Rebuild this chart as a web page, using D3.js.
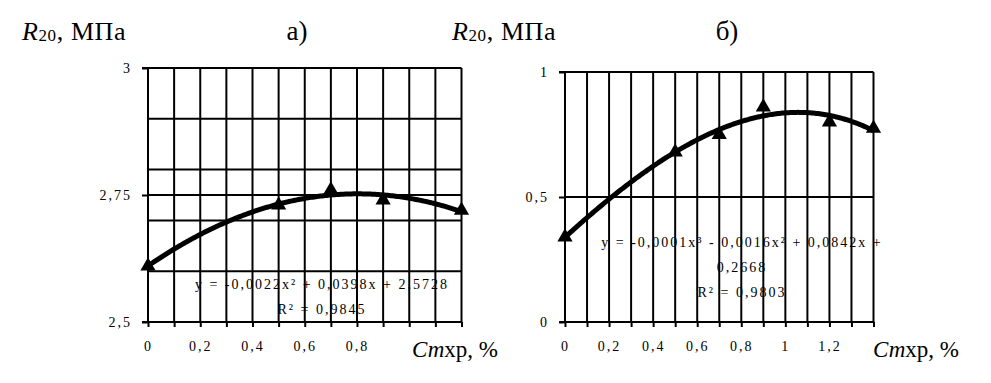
<!DOCTYPE html>
<html><head><meta charset="utf-8">
<script src="https://cdn.jsdelivr.net/npm/d3@7"></script>
</head>
<body style="margin:0;background:#fff"><svg id="c" width="991" height="383"></svg>
<script>
// ---- data ----
const xA = [0, 0.5, 0.7, 0.9, 1.2];
const yA = [2.61, 2.73, 2.76, 2.74, 2.72];
const xB = [0, 0.5, 0.7, 0.9, 1.2, 1.4];
const yB = [0.34, 0.68, 0.75, 0.86, 0.80, 0.775];
const xGridA = [0,0.1,0.2,0.3,0.4,0.5,0.6,0.7,0.8,0.9,1.0,1.1,1.2];
const xGridB = [0,0.1,0.2,0.3,0.4,0.5,0.6,0.7,0.8,0.9,1.0,1.1,1.2,1.3,1.4];
const xLabA = ["0","0,2","0,4","0,6","0,8"];
const xLabAv = [0,0.2,0.4,0.6,0.8];
const xLabB = ["0","0,2","0,4","0,6","0,8","1","1,2"];
const xLabBv = [0,0.2,0.4,0.6,0.8,1.0,1.2];
const yTicksA = [2.5, 2.75, 3];
const yTickLabA = ["2,5","2,75","3"];
const yGridA = [2.6, 2.7, 2.75, 2.8, 2.9, 3];
const yTicksB = [0, 0.5, 1];
const yTickLabB = ["0","0,5","1"];
const yGridB = [0.5, 1];
const eqA = ["y = -0,0022x² + 0,0398x + 2,5728", "R² = 0,9845"];
const eqB = ["y = -0,0001x³ - 0,0016x² + 0,0842x +", "0,2668", "R² = 0,9803"];

const FF = '"Liberation Serif"';

function polyfit(xs, ys, deg){
  const n = deg+1;
  const A = Array.from({length:n},()=>new Array(n+1).fill(0));
  for(let i=0;i<xs.length;i++){
    for(let r=0;r<n;r++){
      for(let c=0;c<n;c++) A[r][c]+=Math.pow(xs[i],r+c);
      A[r][n]+=ys[i]*Math.pow(xs[i],r);
    }
  }
  for(let i=0;i<n;i++){
    let p=i; for(let k=i+1;k<n;k++) if(Math.abs(A[k][i])>Math.abs(A[p][i])) p=k;
    [A[i],A[p]]=[A[p],A[i]];
    for(let k=0;k<n;k++){ if(k===i) continue; const f=A[k][i]/A[i][i]; for(let c=i;c<=n;c++) A[k][c]-=f*A[i][c]; }
  }
  return A.map((row,i)=>row[n]/row[i]);
}
const pv=(co,x)=>co.reduce((s,c,i)=>s+c*Math.pow(x,i),0);

const svg = d3.select("#c").style("font-family",FF);

function panel(o){
  const g = svg.append("g");
  const x = d3.scaleLinear().domain(o.xDom).range(o.xR);
  const y = d3.scaleLinear().domain(o.yDom).range(o.yR);
  g.selectAll(".vg").data(o.xGrid).join("line")
    .attr("x1",d=>x(d)).attr("x2",d=>x(d)).attr("y1",y(o.yDom[0])).attr("y2",y(o.yDom[1]))
    .attr("stroke","#000").attr("stroke-width",2);
  g.selectAll(".hg").data(o.yGrid).join("line")
    .attr("x1",x(o.xDom[0])).attr("x2",x(o.xDom[1])).attr("y1",d=>y(d)).attr("y2",d=>y(d))
    .attr("stroke","#000").attr("stroke-width",2);
  const ya = d3.axisLeft(y).tickValues(o.yTicks).tickSize(6).tickPadding(10)
    .tickFormat((d,i)=>o.yTickLab[i]);
  const yg = g.append("g").attr("transform",`translate(${x(o.xDom[0])},0)`).call(ya);
  const xa = d3.axisBottom(x).tickValues(o.xGrid).tickSize(5).tickPadding(14)
    .tickFormat(d=>{const k=o.xLabV.findIndex(v=>Math.abs(v-d)<1e-9); return k>=0?o.xLab[k]:"";});
  const xg = g.append("g").attr("transform",`translate(0,${y(o.yDom[0])})`).call(xa);
  [yg,xg].forEach(a=>{
    a.attr("font-family",null);
    a.select(".domain").attr("stroke-width",2).attr("stroke","#000");
    a.selectAll(".tick line").attr("stroke-width",2).attr("stroke","#000");
    a.selectAll("text").attr("font-size",14).attr("fill","#000")
      .style("font-family",FF).style("letter-spacing","2px");
  });
  yg.select(".domain").attr("d",`M-6,${y(o.yDom[1])}H0V${y(o.yDom[0])}H-6`);
  xg.select(".domain").attr("d",`M${x(o.xDom[0])},0H${x(o.xDom[1])}`);
  g.selectAll(".eq").data(o.eq).join("text")
    .attr("x",o.eqX).attr("y",(d,i)=>o.eqY+i*o.eqDy)
    .attr("text-anchor","middle").attr("font-size",14)
    .style("font-family",FF).style("letter-spacing","2px")
    .text(d=>d);
  const co = polyfit(o.xs,o.ys,o.deg);
  const samples = d3.range(0,201).map(i=>o.xDom[0]+(o.xDom[1]-o.xDom[0])*i/200);
  g.append("path").datum(samples)
    .attr("d",d3.line().x(d=>x(d)).y(d=>y(pv(co,d))))
    .attr("fill","none").attr("stroke","#000").attr("stroke-width",5).attr("stroke-linejoin","round");
  g.selectAll(".m").data(o.xs.map((v,i)=>[v,o.ys[i]])).join("path")
    .attr("transform",d=>`translate(${x(d[0])},${y(d[1])})`)
    .attr("d",d3.symbol(d3.symbolTriangle,100)).attr("fill","#000");
  const t = svg.append("text").attr("x",o.titleX).attr("y",40).attr("font-size",26)
    .style("font-family",FF).style("letter-spacing","0.6px");
  t.append("tspan").attr("font-style","italic").text("R");
  t.append("tspan").attr("font-size",17).attr("dy",1).text("20");
  t.append("tspan").attr("dy",-1).text(", МПа");
  svg.append("text").attr("x",o.letterX).attr("y",40).attr("font-size",27).style("font-family",FF)
    .attr("text-anchor","middle").text(o.letter);
  const xl = svg.append("text").attr("x",o.xLabelX).attr("y",357).attr("font-size",23).style("font-family",FF);
  xl.append("tspan").attr("font-style","italic").text("Ст");
  xl.append("tspan").text("хр, %");
}

panel({xDom:[0,1.2],xR:[148,461.5],yDom:[2.5,3],yR:[322,68],xGrid:xGridA,yGrid:yGridA,
  yTicks:yTicksA,yTickLab:yTickLabA,xLab:xLabA,xLabV:xLabAv,xs:xA,ys:yA,deg:2,
  eq:eqA,eqX:322,eqY:289,eqDy:25,titleX:22,letter:"а)",letterX:297,xLabelX:412});
panel({xDom:[0,1.4],xR:[565,873.5],yDom:[0,1],yR:[322,72],xGrid:xGridB,yGrid:yGridB,
  yTicks:yTicksB,yTickLab:yTickLabB,xLab:xLabB,xLabV:xLabBv,xs:xB,ys:yB,deg:3,
  eq:eqB,eqX:742,eqY:247,eqDy:25,titleX:452,letter:"б)",letterX:727,xLabelX:873});
</script></body></html>
